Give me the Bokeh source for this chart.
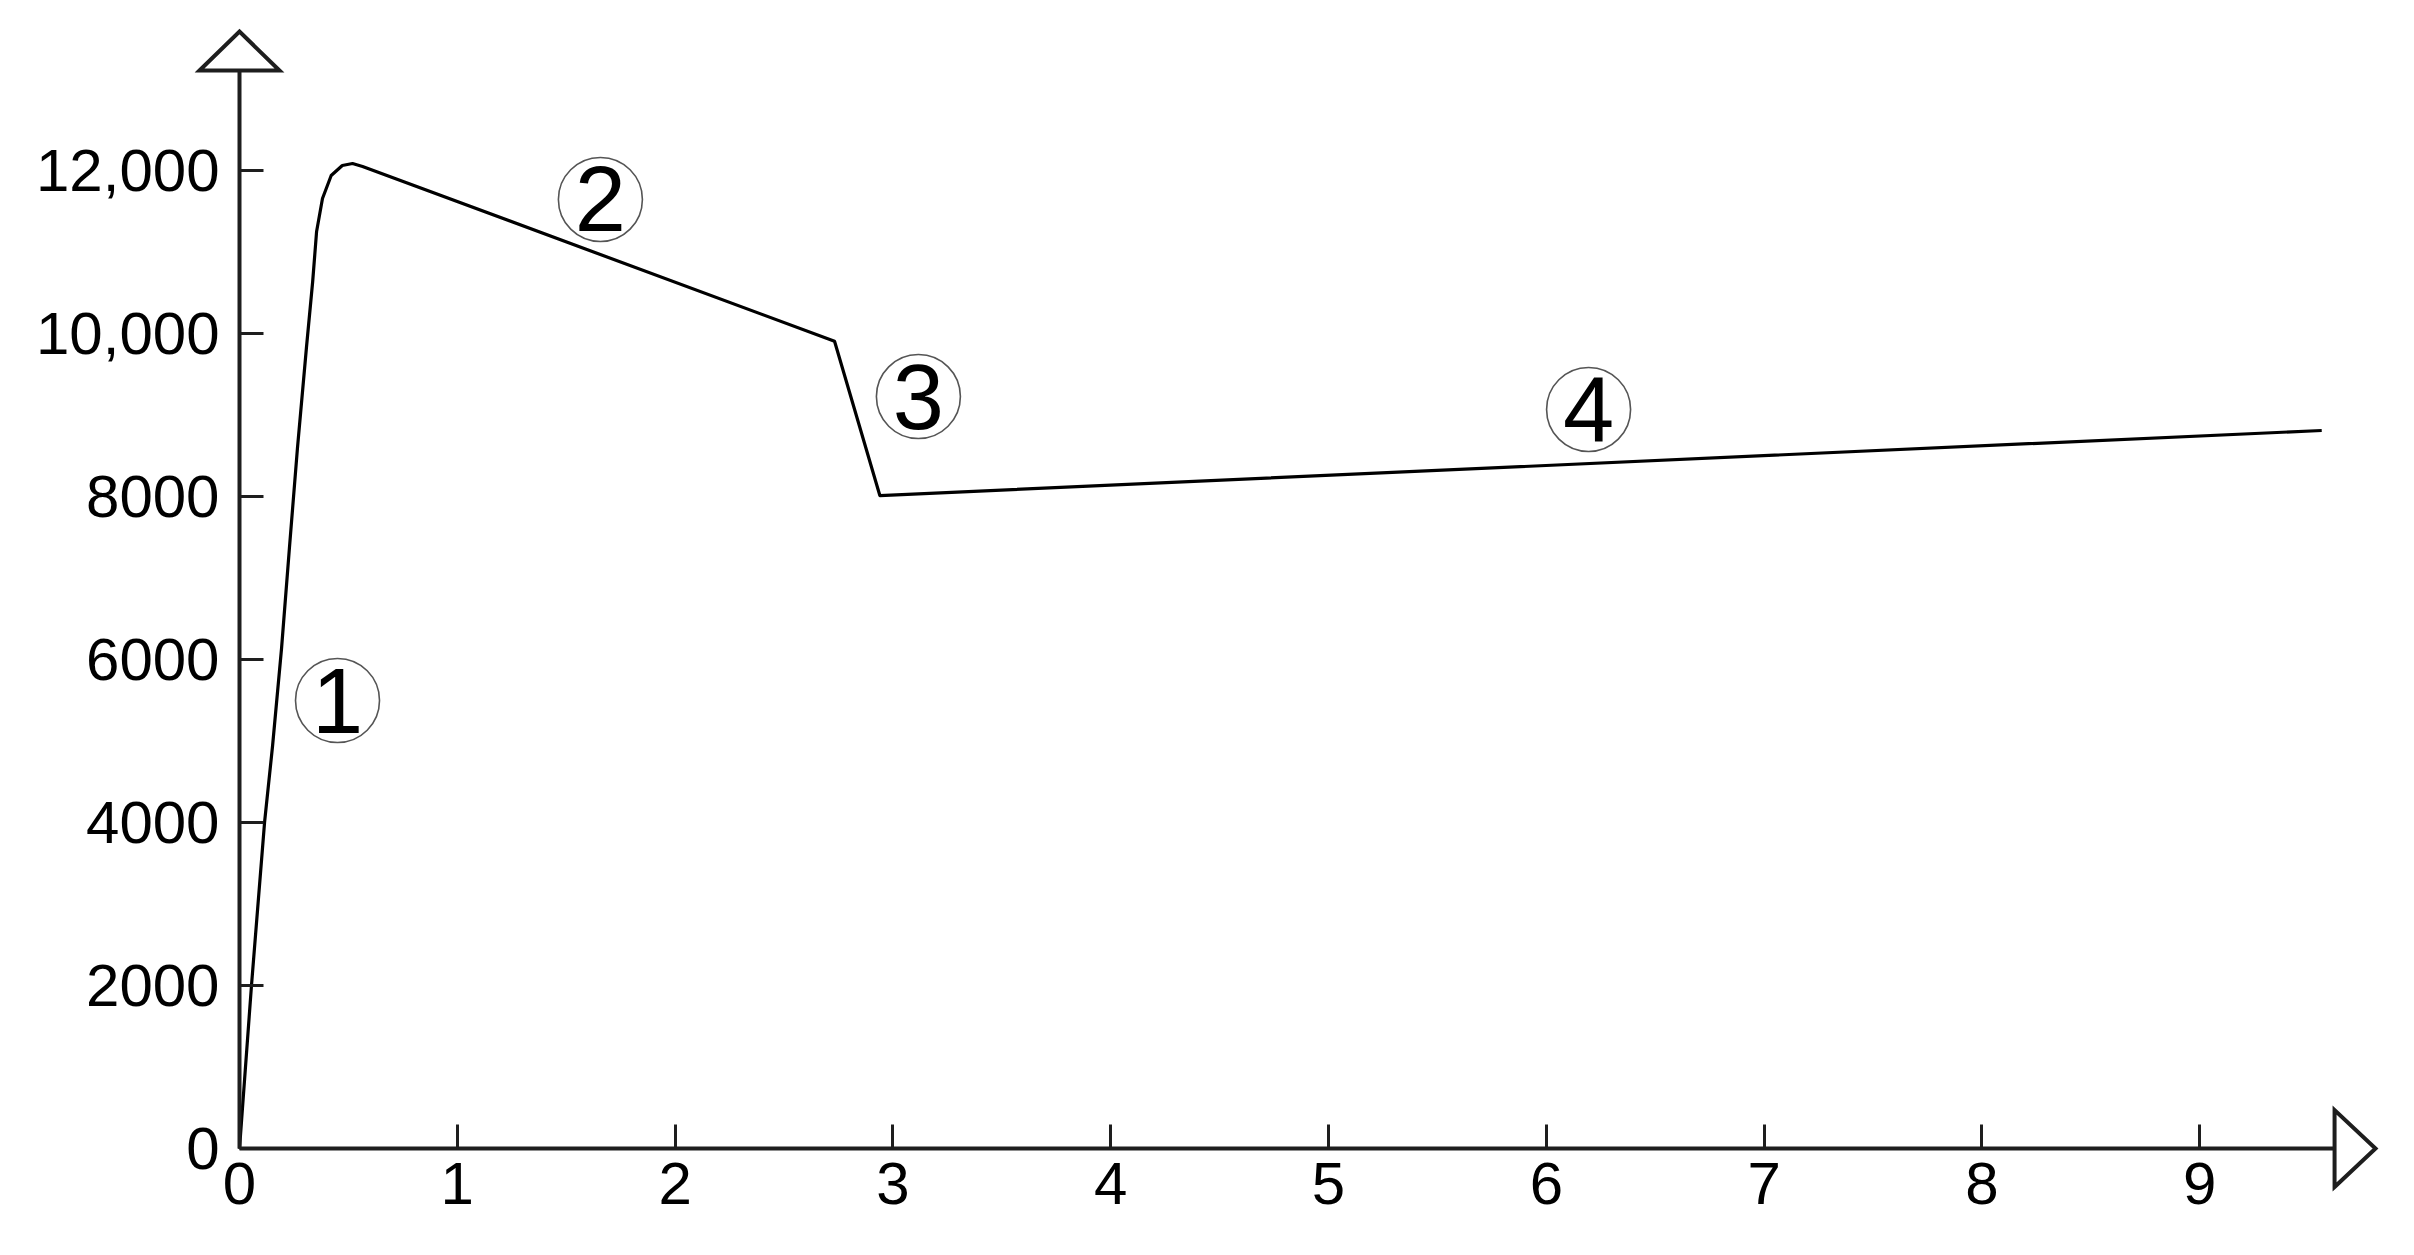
from bokeh.plotting import figure
from bokeh.models import Range1d, LinearAxis, FixedTicker, ColumnDataSource
from bokeh.core.properties import value
from bokeh.embed import file_html
from bokeh.resources import INLINE

# ---- data ----
curve_x = [0.0, 0.055, 0.115, 0.152, 0.193, 0.229, 0.266, 0.307, 0.336, 0.354,
           0.381, 0.421, 0.472, 0.519, 0.565, 2.732, 2.94, 9.56]
curve_y = [0, 2000, 4000, 4945, 6135, 7362, 8590, 9816, 10638, 11252,
           11657, 11939, 12062, 12086, 12050, 9905, 8012, 8810]

label_text = ["1", "2", "3", "4"]
label_x = [0.45, 1.657, 3.117, 6.194]
label_y = [5497, 11645, 9227, 9068]

x_ticks = [0, 1, 2, 3, 4, 5, 6, 7, 8, 9]
y_ticks = [0, 2000, 4000, 6000, 8000, 10000, 12000]
y_tick_labels = ["0", "2000", "4000", "6000", "8000", "10,000", "12,000"]

# ---- axis extents ----
X_START = -0.2066
X_END = 9.862
Y_START = -552
Y_END = 13767
X_AXIS_MAX = 9.619
Y_AXIS_MAX = 13227
X_TIP = 9.807
Y_TIP = 13705
X_HALF = 0.1837   # half base width of y arrow (data x)
Y_HALF = 472      # half base height of x arrow (data y)

FONT = "Liberation Sans"
AXIS_COLOR = "#1e1e1e"

p = figure(width=2396, height=1236, output_backend="svg", toolbar_location=None,
           x_range=Range1d(X_START, X_END), y_range=Range1d(Y_START, Y_END),
           x_axis_type=None, y_axis_type=None,
           min_border_left=194, min_border_right=9, min_border_top=26, min_border_bottom=43)
p.outline_line_color = None
p.xgrid.visible = False
p.ygrid.visible = False
p.background_fill_color = "white"
p.border_fill_color = "white"


def line_axis(ticks, bounds):
    ax = LinearAxis(ticker=FixedTicker(ticks=ticks), bounds=bounds, fixed_location=0)
    ax.axis_line_width = 4
    ax.axis_line_color = AXIS_COLOR
    ax.major_tick_in = 24
    ax.major_tick_out = 0
    ax.major_tick_line_width = 3
    ax.major_tick_line_color = AXIS_COLOR
    ax.minor_tick_line_color = None
    ax.major_label_text_font_size = "0px"
    ax.major_label_text_alpha = 0
    return ax


def label_axis(ticks, standoff):
    ax = LinearAxis(ticker=FixedTicker(ticks=ticks))
    ax.axis_line_color = None
    ax.major_tick_line_color = None
    ax.minor_tick_line_color = None
    ax.major_tick_in = 0
    ax.major_tick_out = 0
    ax.major_label_text_font = FONT
    ax.major_label_text_font_size = "60px"
    ax.major_label_text_color = "black"
    ax.major_label_standoff = standoff
    return ax


# axis lines with inward ticks, drawn through the origin
p.add_layout(line_axis(x_ticks, (0, X_AXIS_MAX)), "below")
p.add_layout(line_axis(y_ticks, (0, Y_AXIS_MAX)), "left")

# tick labels
xlab = label_axis(x_ticks, -31)
p.add_layout(xlab, "below")
ylab = label_axis(y_ticks, -25)
ylab.major_label_overrides = {t: s for t, s in zip(y_ticks, y_tick_labels)}
p.add_layout(ylab, "left")

# hollow arrow heads at the axis ends
p.patch(x=[-X_HALF, 0, X_HALF], y=[Y_AXIS_MAX, Y_TIP, Y_AXIS_MAX],
        fill_color="white", line_color=AXIS_COLOR, line_width=4, line_join="miter")
p.patch(x=[X_AXIS_MAX, X_TIP, X_AXIS_MAX], y=[-Y_HALF, 0, Y_HALF],
        fill_color="white", line_color=AXIS_COLOR, line_width=4, line_join="miter")

# main curve
p.line(curve_x, curve_y, line_color="black", line_width=3.2, line_join="round")

# circled numbers
src = ColumnDataSource(dict(x=label_x, y=label_y, t=label_text))
p.scatter("x", "y", source=src, marker="circle", size=84, fill_color=None,
          line_color="#555555", line_width=1.6)
p.text("x", "y", text="t", source=src, text_font=value(FONT), text_font_size="92px",
       text_align="center", text_baseline="middle", text_color="black")

open("out.html", "w").write(file_html(p, INLINE))
